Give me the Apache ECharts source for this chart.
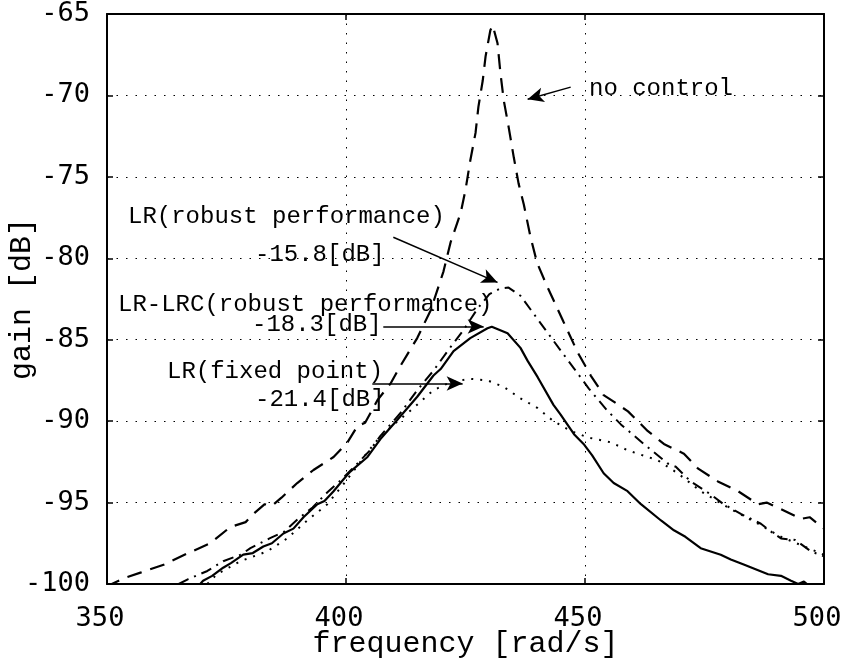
<!DOCTYPE html>
<html>
<head>
<meta charset="utf-8">
<script src="https://cdn.jsdelivr.net/npm/echarts@6/dist/echarts.min.js"></script>
<style>html,body{margin:0;padding:0;background:#fff}#c{width:849px;height:664px}</style>
</head>
<body>
<div id="c"></div>
<script>
// ---- data (frequency [rad/s], gain [dB]) ----
const xTicks = [350, 400, 450, 500];
const yTicks = [-100, -95, -90, -85, -80, -75, -70, -65];

const noControl = [
  [350,-100.3],[351,-100],[354,-99.6],[357,-99.3],[362,-98.8],[367,-98.1],[371.6,-97.5],[375.8,-96.5],
  [379,-96.2],[381,-95.6],[383,-95.1],[384.5,-95.2],[386.5,-94.7],[389.8,-93.8],[393.2,-93.0],[397.4,-92.2],
  [400.3,-91.3],[402.4,-90.3],[404,-90.1],[406.6,-88.7],[409.3,-87.7],[411.4,-86.6],[414.9,-84.9],[417.7,-83.2],
  [420.4,-80.8],[421.9,-79.0],[424,-77.2],[425,-75.8],[426,-74.0],[427.1,-72.3],[427.7,-70.7],[428.6,-69.1],
  [429.2,-67.6],[430.2,-66.0],[430.7,-65.7],[431.7,-66.8],[432.3,-68.6],[433,-70.3],[434,-71.9],[435.1,-73.8],
  [436.1,-75.4],[437.2,-76.7],[438.6,-78.7],[440,-80.3],[442.2,-81.8],[445.5,-83.9],[448.5,-85.8],[451.2,-87.2],
  [453.9,-88.4],[456,-88.8],[459,-89.4],[463.1,-90.6],[466.5,-91.4],[470.7,-92.0],[473.6,-92.9],[477.8,-93.7],
  [482,-94.3],[486.2,-95.1],[488,-95.0],[491,-95.4],[495.2,-96.0],[497,-95.9],[500,-96.6]
];
const lrRobust = [
  [365,-100],[367,-99.7],[371,-99.2],[374.3,-98.6],[378,-98.2],[380,-97.8],[384,-97.2],[387,-96.8],
  [390,-96.0],[393,-95.3],[396,-94.4],[399,-93.6],[402.4,-92.6],[405,-91.8],[407.2,-90.9],[411.4,-89.5],
  [414.9,-88.1],[418.3,-86.9],[421.5,-85.6],[424.6,-84.4],[427.5,-83.1],[430,-82.2],[432.3,-81.85],[434,-81.8],
  [436.5,-82.3],[439,-83.3],[441.5,-84.3],[444.5,-85.5],[447.8,-86.8],[450.8,-88.0],[454.5,-89.3],[457.5,-90.2],
  [462.3,-91.4],[467.3,-92.6],[469,-92.8],[472.1,-93.7],[476.3,-94.5],[479,-95.1],[482.6,-95.7],[486.8,-96.3],
  [489,-96.8],[491,-97.2],[494,-97.3],[497.3,-98.0],[500,-98.3]
];
const lrLrcRobust = [
  [369.5,-100],[370.1,-99.8],[372,-99.5],[374.3,-99.0],[376,-98.7],[378.5,-98.2],[380.5,-98.1],[382.7,-97.7],
  [384.5,-97.5],[386.9,-96.9],[389,-96.6],[391.1,-95.9],[394,-95.1],[395.5,-94.9],[397.4,-94.3],[399.4,-93.6],
  [400.9,-93.1],[404.5,-92.2],[407.2,-91.1],[410.8,-89.9],[414.9,-88.5],[418.3,-87.2],[419.8,-86.8],[422.5,-85.7],
  [426,-84.9],[429.6,-84.3],[430.5,-84.2],[433.8,-84.6],[436.5,-85.5],[438,-86.3],[440.1,-87.3],[443.4,-89.0],
  [444.9,-89.6],[447.7,-90.8],[449.7,-91.4],[451.5,-92.1],[453.9,-93.2],[456,-93.8],[458.9,-94.3],[461.7,-95.1],
  [465.9,-96.1],[468.6,-96.7],[471,-97.1],[474.2,-97.8],[478.4,-98.2],[480.5,-98.5],[483.2,-98.8],[488.3,-99.4],
  [491,-99.5],[493.1,-99.8],[494.6,-100.0],[495.8,-99.85],[496.8,-100.1],[497.5,-100.3]
];
const lrFixed = [
  [371,-100],[373,-99.4],[377.9,-98.6],[383.5,-98.0],[387.7,-97.2],[391.9,-96.1],[396.1,-95.1],[399.4,-93.9],
  [402,-92.9],[404.5,-91.9],[407,-91.0],[410,-90.2],[414.1,-89.2],[418.3,-88.1],[421.9,-87.6],[426,-87.4],
  [429.6,-87.5],[433,-87.9],[436.5,-88.6],[440.1,-89.2],[443.4,-90.0],[447,-90.6],[450.6,-91.0],[455.4,-91.3],
  [459,-91.8],[465.2,-92.4],[469.4,-93.2],[474.2,-94.3],[479.9,-95.3],[486.2,-96.3],[491,-97.1],[496.7,-97.8],
  [500,-98.2]
];

const labels = {
  noControl: 'no control',
  lrRobust: ['LR(robust performance)', '-15.8[dB]'],
  lrLrc: ['LR-LRC(robust performance)', '-18.3[dB]'],
  lrFixed: ['LR(fixed point)', '-21.4[dB]']
};
// arrow annotations in data coordinates: [from, to]
const arrows = [
  [[447.0,-69.49],[438.0,-70.23]],
  [[409.9,-78.71],[431.7,-81.48]],
  [[407.8,-84.19],[428.8,-84.19]],
  [[405.5,-87.69],[424.4,-87.69]]
];

// ---- chart ----
const chart = echarts.init(document.getElementById('c'), null, {renderer: 'canvas'});
const MONO = '"Liberation Mono", "DejaVu Sans Mono", monospace';
const TICKF = '"DejaVu Sans Mono", monospace';
const gridLine = {show: true, lineStyle: {color: '#000', width: 1, type: [1.5, 8]}};
const axisLine = {show: true, lineStyle: {color: '#000', width: 2}};
const tick = {show: true, inside: true, length: 6, lineStyle: {color: '#000', width: 1.5}};

function txt(s, x, y) {
  return {type: 'text', x: x, y: y, silent: true,
    style: {text: s, font: '24px ' + MONO, fill: '#000', align: 'left', verticalAlign: 'middle'}};
}

chart.setOption({
  animation: false,
  backgroundColor: '#fff',
  grid: {left: 107, right: 25, top: 14, bottom: 80, containLabel: false, outerBoundsMode: 'none'},
  xAxis: [
    {type: 'value', min: 350, max: 500, interval: 50, position: 'bottom',
     name: 'frequency [rad/s]', nameLocation: 'middle', nameGap: 45, nameMoveOverlap: false,
     nameTextStyle: {fontFamily: MONO, fontSize: 30, color: '#000'},
     axisLine: axisLine, axisTick: tick, splitLine: gridLine,
     axisLabel: {fontFamily: TICKF, fontSize: 27, color: '#000', margin: 21, padding: [0, 14, 0, 0]}},
    {type: 'value', min: 350, max: 500, interval: 50, position: 'top',
     axisLine: axisLine, axisTick: tick, splitLine: {show: false}, axisLabel: {show: false}}
  ],
  yAxis: [
    {type: 'value', min: -100, max: -65, interval: 5, position: 'left',
     name: 'gain [dB]', nameLocation: 'middle', nameGap: 70, nameRotate: 90, nameMoveOverlap: false,
     nameTextStyle: {fontFamily: MONO, fontSize: 30, color: '#000'},
     axisLine: axisLine, axisTick: tick, splitLine: gridLine,
     axisLabel: {fontFamily: TICKF, fontSize: 27, color: '#000', margin: 17}},
    {type: 'value', min: -100, max: -65, interval: 5, position: 'right',
     axisLine: axisLine, axisTick: tick, splitLine: {show: false}, axisLabel: {show: false}}
  ],
  series: [
    {name: 'no control', type: 'line', data: noControl, showSymbol: false, clip: true,
     lineStyle: {color: '#000', width: 2.2, type: [15, 9]}},
    {name: 'LR(robust performance)', type: 'line', data: lrRobust, showSymbol: false, clip: true,
     lineStyle: {color: '#000', width: 2, type: [11, 6, 2, 6]}},
    {name: 'LR-LRC(robust performance)', type: 'line', data: lrLrcRobust, showSymbol: false, clip: true,
     lineStyle: {color: '#000', width: 2.2, type: 'solid'},
     markLine: {silent: true, symbol: ['none', 'arrow'], symbolSize: [11, 16],
       label: {show: false}, emphasis: {disabled: true},
       lineStyle: {color: '#000', width: 1.5, type: 'solid'},
       data: arrows.map(a => [{coord: a[0]}, {coord: a[1]}])}},
    {name: 'LR(fixed point)', type: 'line', data: lrFixed, showSymbol: false, clip: true,
     lineStyle: {color: '#000', width: 2, type: [2, 7]}}
  ],
  graphic: [
    txt(labels.noControl, 589, 89),
    txt(labels.lrRobust[0], 128, 217),
    txt(labels.lrRobust[1], 255, 255),
    txt(labels.lrLrc[0], 118, 305),
    txt(labels.lrLrc[1], 252, 325),
    txt(labels.lrFixed[0], 167, 372),
    txt(labels.lrFixed[1], 255, 400)
  ]
});
</script>
</body>
</html>
